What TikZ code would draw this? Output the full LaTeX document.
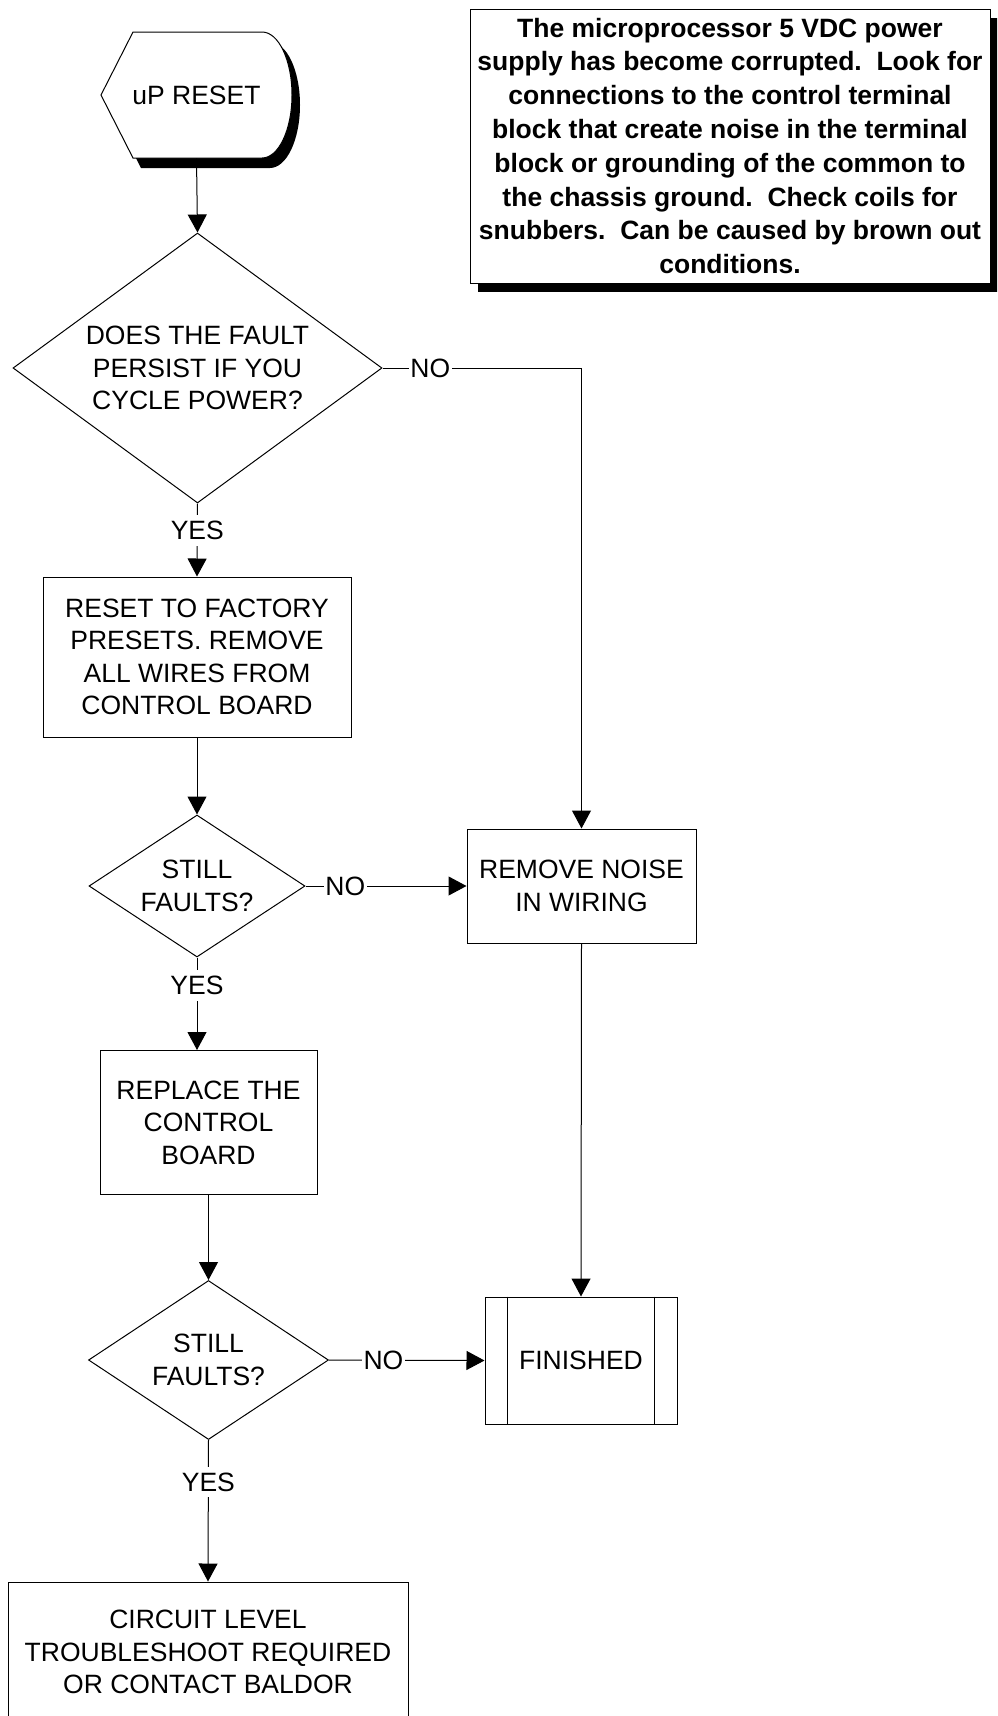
\documentclass[tikz,border=0pt]{standalone}
\usepackage{fontspec}
\setmainfont{Liberation Sans}
\usetikzlibrary{shapes.geometric,arrows.meta,shadows}
\tikzset{
  base/.style={font=\fontsize{26.5}{32.5}\selectfont, align=center, inner sep=0pt, line width=1pt},
  boxnode/.style={base, draw, fill=white, rectangle},
  decision/.style={base, draw, fill=white, diamond},
  lbl/.style={font=\fontsize{26.5}{32.5}\selectfont, fill=white, inner xsep=1.5pt, inner ysep=6pt},
  conn/.style={line width=1pt},
  arr/.style={conn, -{Triangle[length=18pt,width=19pt]}},
}
\begin{document}
\begin{tikzpicture}[x=1pt,y=-1pt]
\clip (0,0) rectangle (997,1716);
% start terminal (display shape) with shadow
\fill[black] (109,105) -- (141,42) -- (270,42) .. controls (286.6,42) and (300,70.2) .. (300,105) .. controls (300,139.8) and (286.6,168) .. (270,168) -- (141,168) -- cycle;
\draw[line width=1pt, fill=white] (101,95) -- (133,32) -- (262,32) .. controls (278.6,32) and (292,60.2) .. (292,95) .. controls (292,129.8) and (278.6,158) .. (262,158) -- (133,158) -- cycle;
\node[base, minimum width=191pt, minimum height=126pt] (start) at (196.5,95) {uP RESET};

% note
\node[base, font=\bfseries\fontsize{26.5}{33.8}\selectfont, draw, fill=white,
      minimum width=520pt, minimum height=274pt,
      drop shadow={shadow xshift=8pt, shadow yshift=-9pt, opacity=1, fill=black}] (note) at (730,146)
  {The microprocessor 5 VDC power\\supply has become corrupted.\ \ Look for\\connections to the control terminal\\block that create noise in the terminal\\block or grounding of the common to\\the chassis ground.\ \ Check coils for\\snubbers.\ \ Can be caused by brown out\\conditions.};

% decisions and boxes
\node[decision, aspect=1.367, minimum width=369pt, minimum height=270pt] (d1) at (197.5,368)
  {DOES THE FAULT\\PERSIST IF YOU\\CYCLE POWER?};
\node[boxnode, minimum width=308pt, minimum height=160pt] (r1) at (197,657)
  {RESET TO FACTORY\\PRESETS. REMOVE\\ALL WIRES FROM\\CONTROL BOARD};
\node[decision, aspect=1.52, minimum width=216pt, minimum height=142pt] (d2) at (197,886)
  {STILL\\FAULTS?};
\node[boxnode, minimum width=229pt, minimum height=114pt] (noise) at (581.5,886)
  {REMOVE NOISE\\IN WIRING};
\node[boxnode, minimum width=217pt, minimum height=144pt] (r2) at (208.5,1122.5)
  {REPLACE THE\\CONTROL\\BOARD};
\node[decision, aspect=1.51, minimum width=240pt, minimum height=159pt] (d3) at (208.5,1360)
  {STILL\\FAULTS?};
\node[boxnode, minimum width=192pt, minimum height=127pt] (fin) at (581,1360.5) {FINISHED};
\draw[line width=1pt] ([xshift=23pt]fin.north west) -- ([xshift=23pt]fin.south west);
\draw[line width=1pt] ([xshift=-23pt]fin.north east) -- ([xshift=-23pt]fin.south east);
\node[boxnode, minimum width=400pt, minimum height=140pt] (r3) at (208,1652)
  {CIRCUIT LEVEL\\TROUBLESHOOT REQUIRED\\OR CONTACT BALDOR};

% connectors
\draw[arr] (start.south) -- (d1.north);
\coordinate (c1) at (noise.north |- d1.east);
\draw[arr] (d1.east) -- node[lbl, pos=0.24] {NO} (c1) -- (noise.north);
\draw[arr] (d1.south) -- node[lbl, pos=0.365] {YES} (r1.north);
\draw[arr] (r1.south) -- (d2.north);
\draw[arr] (d2.east) -- node[lbl, pos=0.247] {NO} (noise.west);
\coordinate (c2) at (d2.south |- r2.north);
\draw[arr] (d2.south) -- node[lbl, pos=0.30] {YES} (c2);
\draw[arr] (r2.south) -- (d3.north);
\draw[arr] (d3.east) -- node[lbl, pos=0.35] {NO} (fin.west);
\draw[arr] (noise.south) -- (fin.north);
\draw[arr] (d3.south) -- node[lbl, pos=0.296] {YES} (r3.north);
\end{tikzpicture}
\end{document}
